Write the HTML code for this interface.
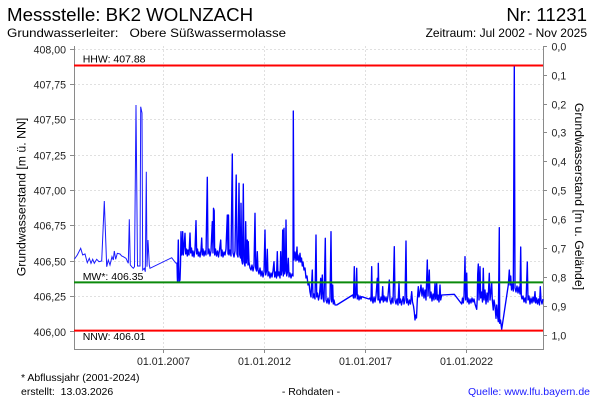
<!DOCTYPE html>
<html><head><meta charset="utf-8"><style>
html,body{margin:0;padding:0;background:#fff;}
svg{display:block;font-family:"Liberation Sans",Arial,sans-serif;}
</style></head><body>
<svg width="600" height="400" viewBox="0 0 600 400" xmlns="http://www.w3.org/2000/svg">
<rect width="600" height="400" fill="#fff"/>
<!-- header -->
<text x="7" y="21" font-size="18.7" fill="#000">Messstelle: BK2 WOLNZACH</text>
<text x="587" y="21" font-size="18.7" fill="#000" text-anchor="end">Nr: 11231</text>
<text x="7" y="37" font-size="12" fill="#000" xml:space="preserve" textLength="279" lengthAdjust="spacingAndGlyphs">Grundwasserleiter:   Obere Süßwassermolasse</text>
<text x="587" y="37" font-size="12" fill="#000" text-anchor="end">Zeitraum: Jul 2002 - Nov 2025</text>

<!-- grid -->
<g stroke="#e0e0e0" stroke-width="1" stroke-dasharray="2,2" shape-rendering="crispEdges">
<line x1="74" y1="49.5" x2="543" y2="49.5"/>
<line x1="74" y1="84.5" x2="543" y2="84.5"/>
<line x1="74" y1="119.5" x2="543" y2="119.5"/>
<line x1="74" y1="155.5" x2="543" y2="155.5"/>
<line x1="74" y1="190.5" x2="543" y2="190.5"/>
<line x1="74" y1="225.5" x2="543" y2="225.5"/>
<line x1="74" y1="261.5" x2="543" y2="261.5"/>
<line x1="74" y1="296.5" x2="543" y2="296.5"/>
<line x1="163.5" y1="46" x2="163.5" y2="349"/>
<line x1="264.5" y1="46" x2="264.5" y2="349"/>
<line x1="365.5" y1="46" x2="365.5" y2="349"/>
<line x1="466.5" y1="46" x2="466.5" y2="349"/>
</g>

<!-- axes -->
<g stroke="#8a8a8a" stroke-width="1" shape-rendering="crispEdges">
<line x1="74.5" y1="46" x2="74.5" y2="350"/>
<line x1="543.5" y1="46" x2="543.5" y2="350"/>
<line x1="74" y1="349.5" x2="544" y2="349.5"/>
<line x1="70" y1="49.5" x2="74" y2="49.5"/>
<line x1="70" y1="84.5" x2="74" y2="84.5"/>
<line x1="70" y1="119.5" x2="74" y2="119.5"/>
<line x1="70" y1="155.5" x2="74" y2="155.5"/>
<line x1="70" y1="190.5" x2="74" y2="190.5"/>
<line x1="70" y1="225.5" x2="74" y2="225.5"/>
<line x1="70" y1="261.5" x2="74" y2="261.5"/>
<line x1="70" y1="296.5" x2="74" y2="296.5"/>
<line x1="70" y1="331.5" x2="74" y2="331.5"/>
<line x1="543" y1="46.5" x2="547" y2="46.5"/>
<line x1="543" y1="75.5" x2="547" y2="75.5"/>
<line x1="543" y1="104.5" x2="547" y2="104.5"/>
<line x1="543" y1="132.5" x2="547" y2="132.5"/>
<line x1="543" y1="161.5" x2="547" y2="161.5"/>
<line x1="543" y1="190.5" x2="547" y2="190.5"/>
<line x1="543" y1="219.5" x2="547" y2="219.5"/>
<line x1="543" y1="248.5" x2="547" y2="248.5"/>
<line x1="543" y1="277.5" x2="547" y2="277.5"/>
<line x1="543" y1="306.5" x2="547" y2="306.5"/>
<line x1="543" y1="335.5" x2="547" y2="335.5"/>
<line x1="163.5" y1="349" x2="163.5" y2="353"/>
<line x1="264.5" y1="349" x2="264.5" y2="353"/>
<line x1="365.5" y1="349" x2="365.5" y2="353"/>
<line x1="466.5" y1="349" x2="466.5" y2="353"/>
</g>

<!-- left tick labels -->
<g font-size="10.6" fill="#222" text-anchor="end">
<text x="66" y="53.3">408,00</text>
<text x="66" y="88.3">407,75</text>
<text x="66" y="123.3">407,50</text>
<text x="66" y="159.3">407,25</text>
<text x="66" y="194.3">407,00</text>
<text x="66" y="229.3">406,75</text>
<text x="66" y="265.3">406,50</text>
<text x="66" y="300.3">406,25</text>
<text x="66" y="335.8">406,00</text>
</g>
<!-- right tick labels -->
<g font-size="10.6" fill="#222">
<text x="551.5" y="50.3">0,0</text>
<text x="551.5" y="79.3">0,1</text>
<text x="551.5" y="108.3">0,2</text>
<text x="551.5" y="136.3">0,3</text>
<text x="551.5" y="165.3">0,4</text>
<text x="551.5" y="194.3">0,5</text>
<text x="551.5" y="223.3">0,6</text>
<text x="551.5" y="252.3">0,7</text>
<text x="551.5" y="281.3">0,8</text>
<text x="551.5" y="310.3">0,9</text>
<text x="551.5" y="339.3">1,0</text>
</g>
<!-- date labels -->
<g font-size="10.6" fill="#222" text-anchor="middle">
<text x="163.5" y="365">01.01.2007</text>
<text x="264.5" y="365">01.01.2012</text>
<text x="365.5" y="365">01.01.2017</text>
<text x="466.5" y="365">01.01.2022</text>
</g>

<!-- axis titles -->
<text transform="translate(25.5,197) rotate(-90)" font-size="12.3" fill="#000" text-anchor="middle">Grundwasserstand [m ü. NN]</text>
<text transform="translate(575,196.5) rotate(90)" font-size="12.3" fill="#000" text-anchor="middle">Grundwasserstand [m u. Gelände]</text>

<!-- data: early sparse part -->
<polyline fill="none" stroke="#1a1aff" stroke-width="1" points="
74.5,259 77.3,255 80.7,248.3 82.7,255 85,254 87.3,262.7 89.3,258.3 91,263.3 92.7,259.3 94.3,263.3 96.7,259.3 99,261.7 101.7,261 104.3,201 106.7,266.7 108.3,260 110,265 112,256.7 113.3,260 114.3,251 115.7,259.3 117.3,253.3 120,254 121.7,256 123.3,256.7 126,258.3 128.3,263.3 129.3,219.3 130.3,265 131.7,266.7 133.3,268.3 134.5,266.7 136,105 137.5,266 140,266 140.7,106.7 142,113 142.7,270 144.3,268.3 145.3,271.7 146.3,171.7 147,266.7 148,240 149.3,265 150,268.3 171.7,257.7 175.7,263 177,263 177.5,281.7"/>
<!-- data: dense part -->
<polyline fill="none" stroke="#0000ff" stroke-width="1.35" stroke-linejoin="round" points="
177,263 177.5,281.7 178.3,240 179,281.7 180,280 180.5,265 181,231.7 181.7,255
182.3,250 182.7,231.7 183.3,255 184,248 185,233.3 185.7,254 186.5,249 187.3,256 188,250 189,255 190,233 190.7,253 191.5,248 192.3,256 193,251 194,257 195,250 196,220.7 196.7,254 197.5,249 198.3,256 199,252 200,257 201,250 201.7,238 202.3,255 203,249 204,256 205,251 206,255 207.3,177.3 208,254 209,249 210,256 211,251 212.3,221.7 213,253 213.5,208.3 214.2,210.7 214.7,255 215.5,249 216.5,256 217.5,251 218.5,257 219.5,250 220.7,240 221.3,256 222,250 223,257 224,252 225,255 226,249 227.3,215 228,254 228.5,215 229,255 230,250 231,256 232.3,154 233,253 234,257 235,251 236.2,175 237,254 238,257 239,183.3 239.7,255 240.5,258 241,203.3 241.7,260 242.5,264 243.3,184 244,262 245,266 245.7,221.7 246.3,263 247.3,240 248,265 248.3,241.7 249,262 250,268
251,270 252,265 253,271 254,266 255,213.3 255.7,268 256.5,271 257.3,251.7 258,270 259,274 260,268 261,276 262,271 263,277 264,272 265,230 265.7,275 266.5,271 267.3,249.3 268,276 269,272 270,278 271,273 272,277 273,271 274,261.7 274.7,277 275.5,272 276.5,278 277.3,251.7 278,276 279,272 280,278 280.7,251.7 281.3,275 282,270 282.7,230 283.3,276 284,228.3 284.7,274 285.5,270 286,220 286.7,276 287.5,272 288.3,258.3 289,277 290,273 291,278 292,274 293,276 293.3,111 294,260 295,252 296,261 297,247 297.5,260 298,255 299,262 300,253.3 300.7,262 301.5,258 302.3,266 303,262 304,270 305,268 306,278 307,276 308,285 309,283 310,292
311,297 312.3,270 313,298 314,294 315,299 316,235 316.7,297 317.5,293 318.5,300 319.5,295 320.7,278.3 321.3,299 322.3,275 323,298 324,302 325.3,238.3 326,300 327,303 328,298 329,304 330,299 331,231.7 331.7,302 332.7,285 333.3,304 334,300 335,305 336.7,305 352.7,295
353.5,298 354.3,266.7 355,298 356,294 356.7,268.3 357.3,299 358,295 359,300 360,296 361,299 361.7,296.7 369,299 370,298 371,301 371.7,266.7 372.3,299 373,303 374,297 375,302 376,296 377.3,278.3 378,300 378.3,263.3 379,298 380,303 381,297 382,300 382.7,286.7 383.3,302 384,296 385,301 386,297 387,302 388,296 389.3,280 390,300 391,304 392,298 393,303 394.3,246.7 395,300 396,304 397,299 398,305 399,281.7 399.7,303 400.5,299 401.5,305 402.5,300 403.3,296.7 404,304 405,300 406,241 406.7,303 407.5,299 408.5,305 409.5,300 410.5,304 411.7,291.7 412.5,302 413.5,306 414.3,312 415,320 415.7,315 416.5,318 417.3,300 418.3,286.7 419,297 420,292
421,285 422,296 423,288 424,298 425,290 426,300 427.3,260 428,296 429.3,270 430,298 431,292 432,301 433,294 434,300 435,283.3 435.7,299 436.7,282.7 437.3,300 438,295 439,302 440,285 440.7,300 441.7,295 454.3,294.3 461.7,304
462.5,298 463.3,303 464,297 465,256.7 465.7,300 466.7,273 467.3,302 468,298 469,304 470,299 471,303 472,298 473,302 474,299 475,304 476.7,309.3 477.3,298 477.7,274 478.3,264 479,300 480,266.7 480.7,298 481.5,292 482.5,302 483.3,268.3 484,300 485,290 486,304 487,293 488,302 489.3,273.3 490,300 491,291 491.7,282.7 492.3,300 493.3,310 494,300 495,306 496,318.3 496.7,305 497.5,315 498.3,321.7 499.3,227.7 499.7,323.3 500.5,320 501.7,329.3 508.3,285 509.3,270 510,285 510.7,276 511.5,290 512.5,284 513.3,291 514.3,66 515,288 516,292 517,286 518,293 519,287 520,294 520.7,247 521.3,296 522,299 523,296 524,302 525,298 526,303 527.3,262 528,300 529,296 530,304 531,298 532,303 533,297 534,302 535,291.7 535.7,303 536.5,298 537.5,304 538.5,299 539.5,305 540.3,286.7 541,300 542,304 543,299"/>

<!-- level lines -->
<line x1="74" y1="65.5" x2="543" y2="65.5" stroke="#ff0000" stroke-width="2"/>
<line x1="74" y1="282.4" x2="543" y2="282.4" stroke="#0b8a0b" stroke-width="2"/>
<line x1="74" y1="330.6" x2="543" y2="330.6" stroke="#ff0000" stroke-width="2"/>
<g font-size="10.5" fill="#000">
<text x="82.7" y="62.7">HHW: 407.88</text>
<text x="82.7" y="279.8">MW*: 406.35</text>
<text x="82.7" y="340">NNW: 406.01</text>
</g>

<!-- footer -->
<g font-size="10.5" fill="#000">
<text x="21" y="381">* Abflussjahr (2001-2024)</text>
<text x="21" y="395" xml:space="preserve">erstellt:  13.03.2026</text>
<text x="311" y="395" text-anchor="middle">- Rohdaten -</text>
<text x="590" y="395" text-anchor="end" fill="#1a1aff">Quelle: www.lfu.bayern.de</text>
</g>
</svg>
</body></html>
